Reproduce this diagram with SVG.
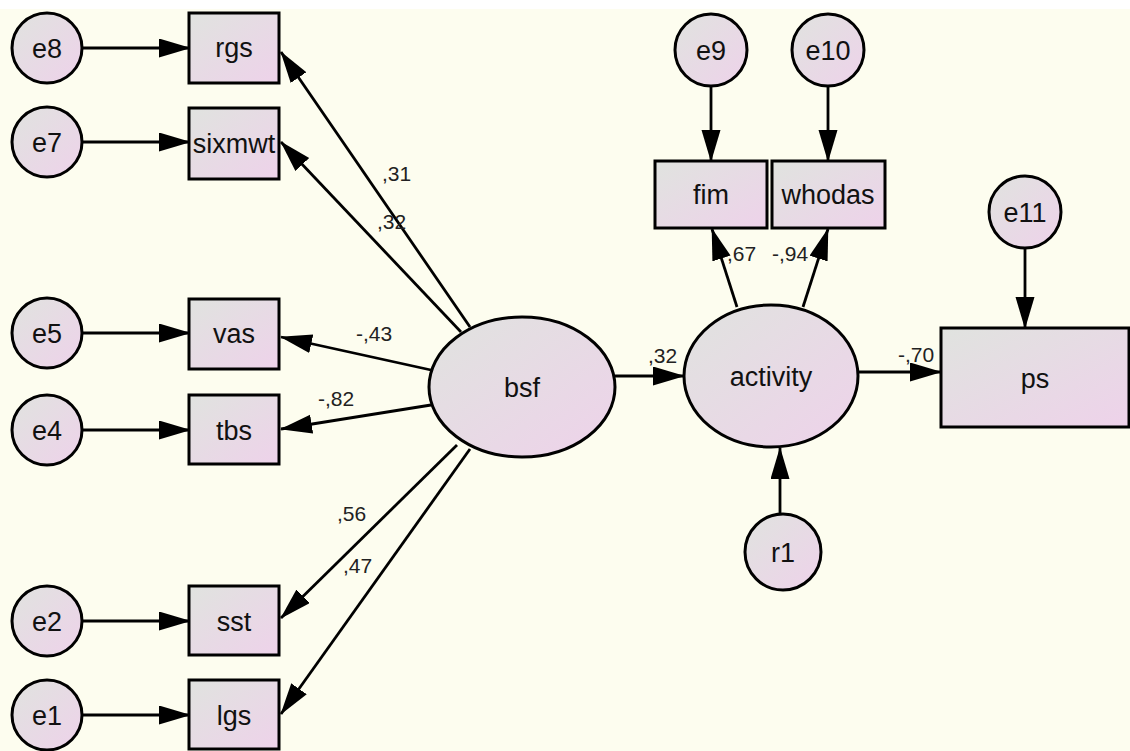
<svg xmlns="http://www.w3.org/2000/svg" width="1130" height="751" viewBox="0 0 1130 751">
<defs>
<linearGradient id="g" x1="0" y1="0" x2="1" y2="1">
<stop offset="0" stop-color="#e0e3df"/>
<stop offset="1" stop-color="#eed2ea"/>
</linearGradient>
<marker id="ah" markerUnits="userSpaceOnUse" markerWidth="33" markerHeight="20" refX="31" refY="9.5" orient="auto" viewBox="0 0 33 20">
<path d="M0,0 L32,9.5 L0,19 z" fill="#000"/>
</marker>
<style>
.n{fill:url(#g);stroke:#000;stroke-width:3}
.t{font-family:"Liberation Sans",Arial,sans-serif;font-size:27px;fill:#111;text-anchor:middle}
.l{font-family:"Liberation Sans",Arial,sans-serif;font-size:21px;fill:#222}
.c line{stroke:#000;stroke-width:2.8;marker-end:url(#ah)}
</style>
</defs>
<rect width="1130" height="751" fill="#fff"/>
<rect y="9" width="1130" height="742" fill="#fdfdef"/>

<g class="c" id="connectors">
<line x1="82" y1="48" x2="190" y2="48"/>
<line x1="82" y1="142" x2="190" y2="142"/>
<line x1="82" y1="333" x2="190" y2="333"/>
<line x1="82" y1="430" x2="190" y2="430"/>
<line x1="82" y1="621" x2="190" y2="621"/>
<line x1="82" y1="715" x2="190" y2="715"/>
<line x1="470" y1="327" x2="281" y2="52"/>
<line x1="461" y1="332" x2="281" y2="142"/>
<line x1="431" y1="370" x2="281" y2="337"/>
<line x1="431" y1="405" x2="281" y2="429"/>
<line x1="457" y1="445" x2="281" y2="618"/>
<line x1="470" y1="449" x2="281" y2="714"/>
<line x1="615" y1="376" x2="684" y2="376"/>
<line x1="737" y1="307" x2="712" y2="229"/>
<line x1="803" y1="307" x2="828" y2="229"/>
<line x1="711" y1="86" x2="711" y2="161"/>
<line x1="828" y1="86" x2="828" y2="161"/>
<line x1="1025" y1="248" x2="1025" y2="328"/>
<line x1="858" y1="372" x2="941" y2="372"/>
<line x1="780" y1="514" x2="780" y2="448"/>
<text class="l" x="382" y="181">,31</text>
<text class="l" x="377" y="229">,32</text>
<text class="l" x="356" y="341">-,43</text>
<text class="l" x="318" y="406">-,82</text>
<text class="l" x="337" y="521">,56</text>
<text class="l" x="343" y="573">,47</text>
<text class="l" x="648" y="363">,32</text>
<text class="l" x="727" y="261">,67</text>
<text class="l" x="772" y="261">-,94</text>
<text class="l" x="898" y="362">-,70</text>
</g>

<g id="e8"><circle class="n" cx="47" cy="48" r="35"/><text class="t" x="47" y="58">e8</text></g>
<g id="e7"><circle class="n" cx="47" cy="142" r="35"/><text class="t" x="47" y="152">e7</text></g>
<g id="e5"><circle class="n" cx="47" cy="333" r="35"/><text class="t" x="47" y="343">e5</text></g>
<g id="e4"><circle class="n" cx="47" cy="430" r="35"/><text class="t" x="47" y="440">e4</text></g>
<g id="e2"><circle class="n" cx="47" cy="621" r="35"/><text class="t" x="47" y="631">e2</text></g>
<g id="e1"><circle class="n" cx="47" cy="715" r="35"/><text class="t" x="47" y="725">e1</text></g>

<g id="rgs"><rect class="n" x="189" y="13" width="90" height="70"/><text class="t" x="234" y="57">rgs</text></g>
<g id="sixmwt"><rect class="n" x="189" y="108" width="90" height="71"/><text class="t" x="234" y="153">sixmwt</text></g>
<g id="vas"><rect class="n" x="189" y="299" width="90" height="70"/><text class="t" x="234" y="343">vas</text></g>
<g id="tbs"><rect class="n" x="189" y="395" width="90" height="69"/><text class="t" x="234" y="440">tbs</text></g>
<g id="sst"><rect class="n" x="189" y="586" width="90" height="69"/><text class="t" x="234" y="631">sst</text></g>
<g id="lgs"><rect class="n" x="189" y="680" width="90" height="69"/><text class="t" x="234" y="725">lgs</text></g>

<g id="bsf"><ellipse class="n" cx="522" cy="387" rx="93" ry="70"/><text class="t" x="522" y="397">bsf</text></g>
<g id="activity"><ellipse class="n" cx="771" cy="376" rx="87" ry="71"/><text class="t" x="771" y="386">activity</text></g>

<g id="e9"><circle class="n" cx="711" cy="50" r="36"/><text class="t" x="711" y="60">e9</text></g>
<g id="e10"><circle class="n" cx="828" cy="50" r="36"/><text class="t" x="828" y="60">e10</text></g>
<g id="fim"><rect class="n" x="655" y="161" width="112" height="67"/><text class="t" x="711" y="204">fim</text></g>
<g id="whodas"><rect class="n" x="772" y="161" width="113" height="67"/><text class="t" x="828" y="204">whodas</text></g>

<g id="e11"><circle class="n" cx="1025" cy="212" r="36"/><text class="t" x="1025" y="222">e11</text></g>
<g id="ps"><rect class="n" x="941" y="328" width="188" height="99"/><text class="t" x="1035" y="388">ps</text></g>

<g id="r1"><circle class="n" cx="783" cy="552" r="38"/><text class="t" x="783" y="562">r1</text></g>
</svg>
